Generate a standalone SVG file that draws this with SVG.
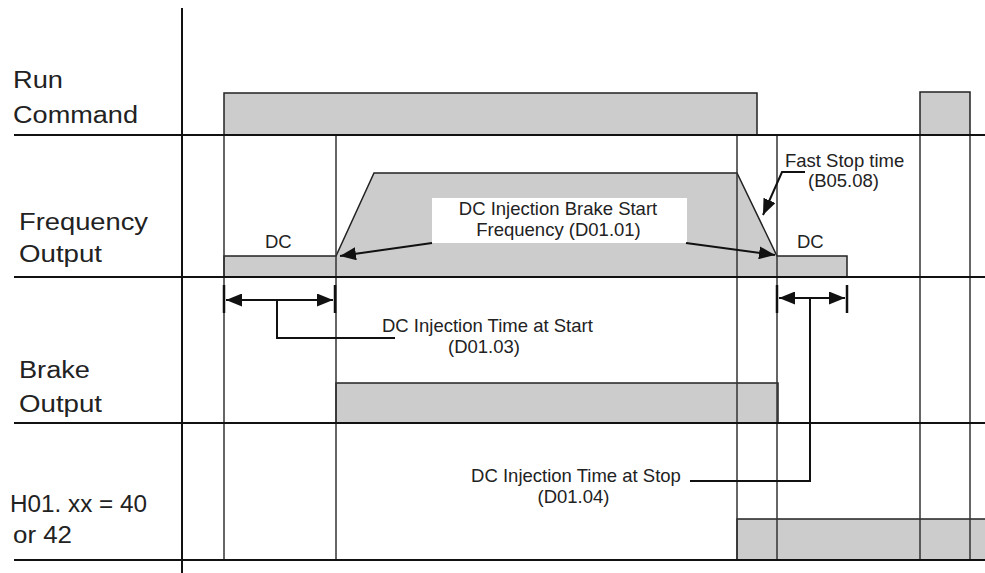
<svg xmlns="http://www.w3.org/2000/svg" width="985" height="573" viewBox="0 0 985 573">
<style>
.lbl{font-family:"Liberation Sans",Arial,sans-serif;font-size:23px;fill:#222}
.ann{font-family:"Liberation Sans",Arial,sans-serif;font-size:18.5px;fill:#222}
.mid{text-anchor:middle}
.grid{stroke:#111;stroke-width:2;fill:none}
.vl{stroke:#333;stroke-width:1.5;fill:none}
.sig{fill:#cccccc;stroke:#222;stroke-width:1.5}
.con{stroke:#111;stroke-width:2;fill:none}
.tick{stroke:#111;stroke-width:2.5}
</style>
<defs>
<marker id="ah" markerUnits="userSpaceOnUse" markerWidth="17" markerHeight="13" refX="16" refY="6.5" orient="auto-start-reverse" viewBox="0 0 17 13">
<path d="M0,0 L16,6.5 L0,13 z" fill="#111"/>
</marker>
</defs>
<rect width="985" height="573" fill="#fff"/>

<g id="signals">
<g id="run-command-signal">
<rect class="sig" x="224" y="93" width="533" height="42"/>
<rect class="sig" x="920" y="92" width="50" height="43"/>
</g>
<g id="frequency-signal">
<path class="sig" d="M224,277 L224,256 L336,256 L374,173 L737,173 L777,256 L847,256 L847,277 Z"/>
</g>
<g id="brake-signal">
<rect class="sig" x="336" y="383" width="442" height="40"/>
</g>
<g id="h01-signal">
<rect class="sig" x="737" y="519" width="260" height="41"/>
</g>
</g>

<g id="grid">
<line class="vl" x1="224" y1="135" x2="224" y2="560"/>
<line class="vl" x1="336" y1="135" x2="336" y2="560"/>
<line class="vl" x1="737" y1="135" x2="737" y2="560"/>
<line class="vl" x1="777" y1="135" x2="777" y2="560"/>
<line class="vl" x1="920" y1="135" x2="920" y2="560"/>
<line class="vl" x1="970" y1="135" x2="970" y2="560"/>
<line class="grid" x1="14" y1="135" x2="985" y2="135"/>
<line class="grid" x1="14" y1="277" x2="985" y2="277"/>
<line class="grid" x1="14" y1="423" x2="985" y2="423"/>
<line class="grid" x1="14" y1="560" x2="985" y2="560"/>
<line class="grid" x1="182" y1="8" x2="182" y2="573"/>
</g>

<g id="labels">
<g id="label-run"><text class="lbl" x="13" y="88" textLength="50" lengthAdjust="spacingAndGlyphs">Run</text>
<text class="lbl" x="13" y="123" textLength="125" lengthAdjust="spacingAndGlyphs">Command</text></g>
<g id="label-frequency"><text class="lbl" x="19" y="230" textLength="129" lengthAdjust="spacingAndGlyphs">Frequency</text>
<text class="lbl" x="19" y="262" textLength="83" lengthAdjust="spacingAndGlyphs">Output</text></g>
<g id="label-brake"><text class="lbl" x="19" y="378" textLength="71" lengthAdjust="spacingAndGlyphs">Brake</text>
<text class="lbl" x="19" y="412" textLength="83" lengthAdjust="spacingAndGlyphs">Output</text></g>
<g id="label-h01"><text class="lbl" x="10" y="512" textLength="137" lengthAdjust="spacingAndGlyphs">H01. xx = 40</text>
<text class="lbl" x="13" y="543" textLength="59" lengthAdjust="spacingAndGlyphs">or 42</text></g>
</g>

<g id="annotations">
<g id="dc-start"><text class="ann" x="265" y="248">DC</text></g>
<g id="dc-stop"><text class="ann" x="797" y="248">DC</text></g>
<g id="brake-start-freq">
<rect x="432" y="198" width="255" height="45" fill="#fff"/>
<text class="ann mid" x="558" y="215">DC Injection Brake Start</text>
<text class="ann mid" x="558.5" y="236">Frequency (D01.01)</text>
</g>
<g id="fast-stop">
<text class="ann" x="785" y="167">Fast Stop time</text>
<text class="ann" x="808" y="187">(B05.08)</text>
</g>
<g id="time-start">
<text class="ann" x="382" y="332">DC Injection Time at Start</text>
<text class="ann mid" x="484" y="353">(D01.03)</text>
</g>
<g id="time-stop">
<text class="ann mid" x="576" y="482">DC Injection Time at Stop</text>
<text class="ann mid" x="573.5" y="503">(D01.04)</text>
</g>
</g>

<g id="connectors">
<line class="con" x1="432" y1="243" x2="340" y2="256" marker-end="url(#ah)"/>
<line class="con" x1="686" y1="243" x2="775" y2="255" marker-end="url(#ah)"/>
<polyline class="con" points="805,172 782,172 763,215" marker-end="url(#ah)"/>
<line class="tick" x1="224" y1="285" x2="224" y2="313"/>
<line class="tick" x1="335" y1="285" x2="335" y2="313"/>
<line class="con" x1="226" y1="300" x2="333" y2="300" marker-start="url(#ah)" marker-end="url(#ah)"/>
<polyline class="con" points="277,300 277,338 395,338"/>
<line class="tick" x1="777" y1="285" x2="777" y2="313"/>
<line class="tick" x1="847" y1="285" x2="847" y2="313"/>
<line class="con" x1="779" y1="298" x2="845" y2="298" marker-start="url(#ah)" marker-end="url(#ah)"/>
<polyline class="con" points="810,298 810,481 690,481"/>
</g>
</svg>
